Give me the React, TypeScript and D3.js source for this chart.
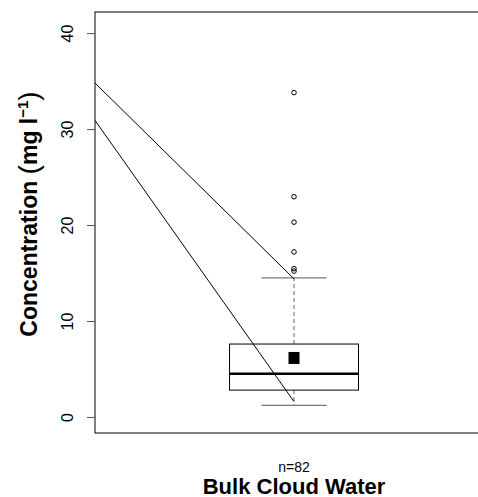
import * as d3 from "d3";
import { useRef, useEffect } from "react";

// summary of the one box (mg l^-1)
const categories = ["Bulk Cloud Water"];
const counts = [82];
const lowerWhisker = [1.2];
const q1 = [2.8];
const median = [4.5];
const q3 = [7.6];
const upperWhisker = [14.5];
const means = [6.15];
const outliers = [33.8, 22.95, 20.3, 17.2, 15.45, 15.2];
const yTicks = [0, 10, 20, 30, 40];

// two connecting lines that come in from the left edge of the plot
const lineStart = [34.8, 30.9];
const lineEnd = [14.4, 1.6];

export default function App() {
  const svgRef = useRef(null);

  useEffect(() => {
    const width = 478;
    const height = 497;
    const left = 95;
    const top = 12;
    const bottom = 433;
    const right = 493;

    const svg = d3.select(svgRef.current);
    svg.selectAll("*").remove();
    svg.attr("width", width).attr("height", height);

    const x = d3.scaleLinear().domain([0.5, 1.5]).range([left, right]);
    const y = d3.scaleLinear().domain([-1.67, 42.2]).range([bottom, top]);
    const font = "'Liberation Sans', Arial, sans-serif";

    svg.append("defs").append("clipPath").attr("id", "plotclip")
      .append("rect").attr("x", left).attr("y", top)
      .attr("width", right - left).attr("height", bottom - top);

    // frame (right side falls outside the picture)
    svg.append("rect")
      .attr("x", left).attr("y", top)
      .attr("width", right - left).attr("height", bottom - top)
      .attr("fill", "none").attr("stroke", "black").attr("stroke-width", 1);

    // y axis
    const axis = svg.append("g").attr("transform", `translate(${left},0)`)
      .call(d3.axisLeft(y).tickValues(yTicks).tickSize(8).tickPadding(8));
    axis.select(".domain").remove();
    axis.selectAll(".tick line").attr("stroke", "#555");
    axis.selectAll(".tick text")
      .attr("font-family", font).attr("font-size", 16)
      .attr("fill", "black")
      .attr("text-anchor", "middle")
      .attr("x", 0).attr("dy", 0)
      .attr("transform", "translate(-22,0) rotate(-90)");

    // y label
    const yl = svg.append("text")
      .attr("transform", `translate(37,214) rotate(-90)`)
      .attr("text-anchor", "middle")
      .attr("font-family", font).attr("font-size", 23).attr("font-weight", "bold");
    yl.append("tspan").text("Concentration ");
    yl.append("tspan").attr("font-weight", "normal").attr("font-size", 28).attr("dy", 1).text("(");
    yl.append("tspan").attr("dy", -1).text("mg l");
    yl.append("tspan").attr("font-size", 15).attr("dy", -9).text("\u22121");
    yl.append("tspan").attr("font-weight", "normal").attr("font-size", 28).attr("dy", 10).text(")");

    const g = svg.append("g").attr("clip-path", "url(#plotclip)");
    const half = 0.162;
    const capHalf = 0.082;

    categories.forEach((c, i) => {
      const cx = x(i + 1);
      // whiskers
      g.append("line").attr("x1", cx).attr("x2", cx)
        .attr("y1", y(q3[i])).attr("y2", y(upperWhisker[i]))
        .attr("stroke", "#666").attr("stroke-dasharray", "4,3");
      g.append("line").attr("x1", cx).attr("x2", cx)
        .attr("y1", y(q1[i])).attr("y2", y(lowerWhisker[i]))
        .attr("stroke", "#666").attr("stroke-dasharray", "4,3");
      [upperWhisker[i], lowerWhisker[i]].forEach((v) => {
        g.append("line")
          .attr("x1", x(i + 1 - capHalf)).attr("x2", x(i + 1 + capHalf))
          .attr("y1", y(v)).attr("y2", y(v))
          .attr("stroke", "#777").attr("stroke-width", 1.2);
      });
      // box
      g.append("rect")
        .attr("x", x(i + 1 - half)).attr("y", y(q3[i]))
        .attr("width", x(i + 1 + half) - x(i + 1 - half))
        .attr("height", y(q1[i]) - y(q3[i]))
        .attr("fill", "white").attr("stroke", "black").attr("stroke-width", 1);
      g.append("line")
        .attr("x1", x(i + 1 - half)).attr("x2", x(i + 1 + half))
        .attr("y1", y(median[i])).attr("y2", y(median[i]))
        .attr("stroke", "black").attr("stroke-width", 2.5);
      // mean
      g.append("rect")
        .attr("x", cx - 5.5).attr("y", y(means[i]) - 6)
        .attr("width", 11).attr("height", 12).attr("fill", "black");
      // outliers
      g.selectAll(null).data(outliers).enter().append("circle")
        .attr("cx", cx).attr("cy", (d) => y(d)).attr("r", 2.3)
        .attr("fill", "none").attr("stroke", "black").attr("stroke-width", 1);

      svg.append("text").attr("x", cx).attr("y", 472)
        .attr("text-anchor", "middle").attr("font-family", font).attr("font-size", 14)
        .text(`n=${counts[i]}`);
      svg.append("text").attr("x", cx).attr("y", 494)
        .attr("text-anchor", "middle").attr("font-family", font).attr("font-size", 22)
        .attr("font-weight", "bold").text(c);
    });

    // connecting lines
    lineStart.forEach((s, k) => {
      g.append("line")
        .attr("x1", x(0.5)).attr("y1", y(s))
        .attr("x2", x(1)).attr("y2", y(lineEnd[k]))
        .attr("stroke", "black").attr("stroke-width", 1);
    });
  }, []);

  return (
    <div>
      <svg ref={svgRef} style={{ position: "absolute", left: 0, top: 0, display: "block" }}></svg>
    </div>
  );
}
